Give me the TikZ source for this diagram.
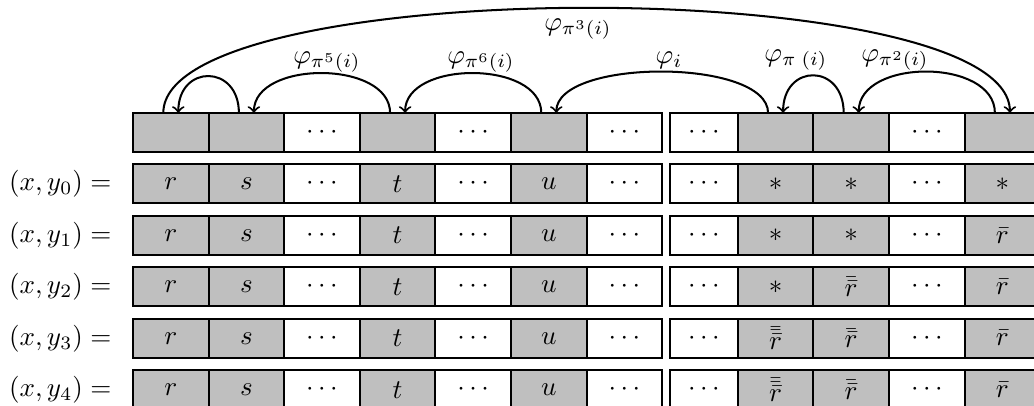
\documentclass[tikz,border=0pt]{standalone}
\usetikzlibrary{calc}
\begin{document}
\begin{tikzpicture}[x=0.37pt,y=-0.37pt,
  cell/.style={draw, line width=0.75pt, inner sep=0pt, outer sep=0pt, minimum height=14.43pt},
  fillg/.style={fill=black!25},
  fillw/.style={fill=white},
  conn/.style={line width=0.75pt, ->},
  lab/.style={inner sep=0pt}]
\useasboundingbox (0,0) rectangle (1034,405);
\clip (0,0) rectangle (1034,405);
% header row
\foreach \k/\t/\f in {0//g,1//g,2/\cdots/w,3//g,4/\cdots/w,5//g,6/\cdots/w,7/\cdots/w,8//g,9//g,10/\cdots/w,11//g}{
  \pgfmathsetmacro\cx{ifthenelse(\k==7,703.9,170.8+75.6*\k)}
  \pgfmathsetmacro\cw{ifthenelse(\k==7,67.8,75.6)*0.37}
  \node[cell, fill\f, minimum width=\cw pt] (c-0-\k) at (\cx,132.5) {$\t$};
}
% data rows
\foreach \r/\a/\b/\c in {1/*/*/*, 2/*/*/\bar{r}, 3/*/\bar{\bar{r}}/\bar{r}, 4/\bar{\bar{\bar{r}}}/\bar{\bar{r}}/\bar{r}, 5/\bar{\bar{\bar{r}}}/\bar{\bar{r}}/\bar{r}}{
  \pgfmathsetmacro\cy{132.5+51.45*\r}
  \pgfmathtruncatemacro\i{\r-1}
  \node[lab, anchor=east] (l\r) at (112,\cy) {$(x,y_{\i}) =$};
  \foreach \k/\t/\f in {0/r/g,1/s/g,2/\cdots/w,3/t/g,4/\cdots/w,5/u/g,6/\cdots/w,7/\cdots/w,8/\a/g,9/\b/g,10/\cdots/w,11/\c/g}{
    \pgfmathsetmacro\cx{ifthenelse(\k==7,703.9,170.8+75.6*\k)}
    \pgfmathsetmacro\cw{ifthenelse(\k==7,67.8,75.6)*0.37}
    \node[cell, fill\f, minimum width=\cw pt] (c-\r-\k) at (\cx,\cy) {$\t$};
  }
}
% arcs
\draw[conn] ($(c-0-0.north)+(-7.5,0)$) .. controls +(0,-140) and +(0,-140) .. ($(c-0-11.north)+(7.5,0)$);
\draw[conn] ($(c-0-1.north)+(-7.5,0)$) .. controls +(0,-49) and +(0,-49) .. ($(c-0-0.north)+(7.5,0)$);
\draw[conn] ($(c-0-3.north)+(-7.5,0)$) .. controls +(0,-53) and +(0,-53) .. ($(c-0-1.north)+(7.5,0)$);
\draw[conn] ($(c-0-5.north)+(-7.5,0)$) .. controls +(0,-53) and +(0,-53) .. ($(c-0-3.north)+(7.5,0)$);
\draw[conn] ($(c-0-8.north)+(-7.5,0)$) .. controls +(0,-55) and +(0,-55) .. ($(c-0-5.north)+(7.5,0)$);
\draw[conn] ($(c-0-9.north)+(-7.5,0)$) .. controls +(0,-50) and +(0,-50) .. ($(c-0-8.north)+(7.5,0)$);
\draw[conn] ($(c-0-11.north)+(-7.5,0)$) .. controls +(0,-55) and +(0,-55) .. ($(c-0-9.north)+(7.5,0)$);
% labels
\node[lab] (p3) at (578,29) {$\varphi_{\pi^3(i)}$};
\node[lab] (p5) at (327,62) {$\varphi_{\pi^5(i)}$};
\node[lab] (p6) at (481,62) {$\varphi_{\pi^6(i)}$};
\node[lab] (pi) at (669,60) {$\varphi_{i}$};
\node[lab] (p1) at (796,60) {$\varphi_{\pi\;(i)}$};
\node[lab] (p2) at (895,60) {$\varphi_{\pi^2(i)}$};
\end{tikzpicture}
\end{document}
